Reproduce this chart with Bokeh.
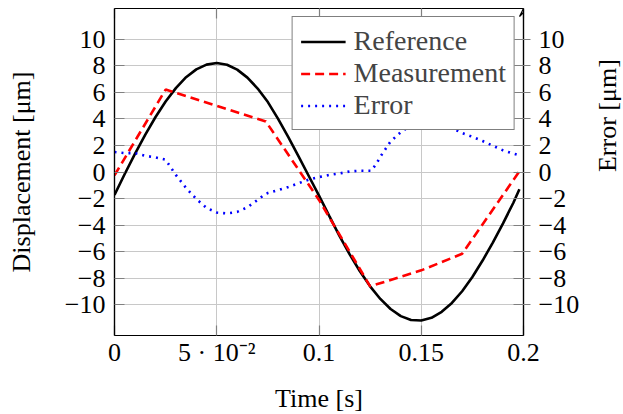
import math
from bokeh.plotting import figure
from bokeh.models import (Range1d, LinearAxis, FixedTicker, Legend, LegendItem,
                          Arrow, VeeHead, CustomJSTickFormatter)
from bokeh.embed import file_html
from bokeh.resources import INLINE

# ---- data ----
t_ref = [0.000, 0.005, 0.010, 0.015, 0.020, 0.025, 0.030, 0.035, 0.040, 0.045,
         0.050, 0.055, 0.060, 0.065, 0.070, 0.075, 0.080, 0.085, 0.090, 0.095,
         0.100, 0.105, 0.110, 0.115, 0.120, 0.125, 0.130, 0.135, 0.140, 0.145,
         0.150, 0.155, 0.160, 0.165, 0.170, 0.175, 0.180, 0.185, 0.190, 0.195, 0.198]
reference = [-1.72, -0.15, 1.36, 2.79, 4.12, 5.30, 6.31, 7.13, 7.72, 8.08,
             8.20, 8.07, 7.70, 7.10, 6.28, 5.26, 4.00, 2.62, 1.18, -0.30,
             -1.78, -3.30, -4.80, -6.20, -7.47, -8.60, -9.55, -10.31, -10.84, -11.13,
             -11.17, -10.97, -10.52, -9.85, -8.97, -7.90, -6.66, -5.31, -3.86, -2.33, -1.30]

t_meas = [0.000, 0.025, 0.074, 0.100, 0.125, 0.150, 0.170, 0.198]
measurement = [-0.25, 6.20, 3.80, -2.10, -8.60, -7.40, -6.15, 0.05]

t_err = [0.000, 0.005, 0.010, 0.015, 0.020, 0.025, 0.0275, 0.030, 0.035, 0.040,
         0.045, 0.050, 0.055, 0.060, 0.065, 0.070, 0.0735, 0.075, 0.080, 0.085,
         0.090, 0.095, 0.100, 0.105, 0.110, 0.115, 0.120, 0.1255, 0.128, 0.130,
         0.135, 0.140, 0.145, 0.150, 0.155, 0.160, 0.165, 0.170, 0.175, 0.180,
         0.185, 0.190, 0.195, 0.198]
error = [1.50, 1.42, 1.42, 1.22, 1.10, 0.92, 0.35, -0.22, -1.20, -2.03,
         -2.70, -3.05, -3.12, -3.00, -2.65, -2.10, -1.68, -1.58, -1.36, -1.13,
         -0.85, -0.57, -0.38, -0.22, -0.11, 0.04, 0.10, 0.09, 0.60, 1.15,
         2.30, 3.00, 3.50, 3.77, 3.82, 3.70, 3.30, 2.93, 2.65, 2.33,
         1.98, 1.63, 1.38, 1.25]

x_ticks = [0, 0.05, 0.1, 0.15, 0.2]
x_tick_labels = ["0", "5 \u00b7 10\u207b\u00b2", "0.1", "0.15", "0.2"]
y_ticks = [-10, -8, -6, -4, -2, 0, 2, 4, 6, 8, 10]
y_tick_labels = ["\u221210", "\u22128", "\u22126", "\u22124", "\u22122", "0", "2", "4", "6", "8", "10"]

FONT = "Liberation Serif"
FS = "26px"

p = figure(frame_width=409, frame_height=327, x_range=Range1d(0, 0.2), y_range=Range1d(-12.3, 12.3),
           output_backend="svg", toolbar_location=None,
           min_border_left=114, min_border_right=92, min_border_top=8, min_border_bottom=60)
p.extra_y_ranges = {"err": Range1d(-12.3, 12.3)}
p.background_fill_color = "white"
p.border_fill_color = "white"
p.outline_line_color = "black"
p.outline_line_width = 1.2

# grid
for g in (p.xgrid, p.ygrid):
    g.grid_line_color = "#c8c8c8"
    g.grid_line_width = 1
p.xgrid.ticker = FixedTicker(ticks=x_ticks)
p.ygrid.ticker = FixedTicker(ticks=y_ticks)

def style_axis(ax):
    ax.axis_label_text_font = FONT
    ax.axis_label_text_font_size = FS
    ax.axis_label_text_font_style = "normal"
    ax.axis_label_text_color = "black"
    ax.major_label_text_font = FONT
    ax.major_label_text_font_size = FS
    ax.major_label_text_color = "black"
    ax.major_tick_line_color = "#808080"
    ax.major_tick_line_width = 1.2
    ax.minor_tick_line_color = None
    ax.axis_line_color = "black"
    ax.axis_line_width = 1.2

xa = p.xaxis[0]
style_axis(xa)
xa.ticker = FixedTicker(ticks=x_ticks)
xa.major_label_overrides = {k: v for k, v in zip(x_ticks, x_tick_labels)}
xa.major_tick_in = 10
xa.major_tick_out = 0
xa.major_label_standoff = 2
xa.axis_label = "Time [s]"
xa.axis_label_standoff = 14

ya = p.yaxis[0]
style_axis(ya)
ya.ticker = FixedTicker(ticks=y_ticks)
ya.major_label_overrides = {k: v for k, v in zip(y_ticks, y_tick_labels)}
ya.major_tick_in = 10
ya.major_tick_out = 0
ya.major_label_standoff = 9
ya.axis_label = "Displacement [\u03bcm]"
ya.axis_label_standoff = 26

ra = LinearAxis(y_range_name="err", ticker=FixedTicker(ticks=y_ticks), axis_label="Error [\u03bcm]")
style_axis(ra)
ra.major_label_overrides = {k: v for k, v in zip(y_ticks, y_tick_labels)}
ra.major_tick_in = 10
ra.major_tick_out = 7
ra.major_label_standoff = 8
ra.axis_label_standoff = 25
ra.axis_label_orientation = math.pi / 2
p.add_layout(ra, "right")

# mirrored ticks on top
ta = LinearAxis(ticker=FixedTicker(ticks=x_ticks), formatter=CustomJSTickFormatter(code="return ''"))
ta.major_tick_in = 10
ta.major_tick_out = 0
ta.major_tick_line_color = "#808080"
ta.major_tick_line_width = 1.2
ta.minor_tick_line_color = None
ta.axis_line_color = None
ta.major_label_text_font_size = "1px"
ta.major_label_standoff = 0
p.add_layout(ta, "above")

# data
r_ref = p.line(t_ref, reference, line_color="black", line_width=2.6)
r_meas = p.line(t_meas, measurement, line_color="#ff0000", line_width=2.6, line_dash="9 5")
r_err = p.line(t_err, error, line_color="#0000ff", line_width=2.6, line_dash="2 5",
               y_range_name="err")

# arrow on the right axis top
p.add_layout(Arrow(end=VeeHead(size=8, line_color="black", line_width=1.2, fill_color=None),
                   line_color=None, x_start=0.2, x_end=0.2, y_start=11.5, y_end=12.3,
                   y_range_name="err"))

legend = Legend(items=[LegendItem(label="Reference", renderers=[r_ref]),
                       LegendItem(label="Measurement", renderers=[r_meas]),
                       LegendItem(label="Error", renderers=[r_err])],
                location="top_right")
legend.label_text_font = FONT
legend.label_text_font_size = "28px"
legend.border_line_color = "black"
legend.border_line_width = 1.2
legend.background_fill_alpha = 1.0
legend.glyph_width = 45
legend.glyph_height = 31
legend.label_height = 31
legend.label_standoff = 8
legend.padding = 8
legend.spacing = 0
legend.margin = 8
p.add_layout(legend)

open("out.html", "w").write(file_html(p, INLINE))
